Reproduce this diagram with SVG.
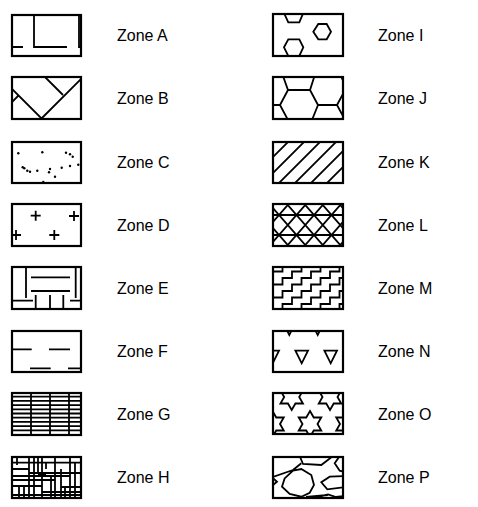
<svg xmlns="http://www.w3.org/2000/svg" width="478" height="507" viewBox="0 0 478 507">
<style>
.box{fill:none;stroke:#000;stroke-width:2.2}
.h{fill:none;stroke:#000;stroke-width:1.8;stroke-linejoin:miter}
.d{fill:#000}
.t{font-family:"Liberation Sans",Arial,sans-serif;font-size:16px;fill:#000}
</style>
<defs>
<clipPath id="cl"><rect width="69" height="42"/></clipPath>
<clipPath id="cr"><rect width="70" height="42"/></clipPath>
<path id="star" d="M0 -13L3.75 -6.5L11.26 -6.5L7.5 0L11.26 6.5L3.75 6.5L0 13L-3.75 6.5L-11.26 6.5L-7.5 0L-11.26 -6.5L-3.75 -6.5Z"/>
</defs>
<rect width="478" height="507" fill="#fff"/>

<g id="zoneA">
<g transform="translate(12,15)"><g clip-path="url(#cl)"><path class="h" d="M22 0V32H55M0 32H11M67 0V32H69"/></g><rect class="box" width="69" height="41"/></g>
<text class="t" x="117" y="41">Zone A</text>
</g>

<g id="zoneB">
<g transform="translate(12,77)"><g clip-path="url(#cl)"><path class="h" d="M0 12L30 42M30 41L70 1M33 0L51 18M0 25L7 18"/></g><rect class="box" width="69" height="42"/></g>
<text class="t" x="117" y="104">Zone B</text>
</g>

<g id="zoneC">
<g transform="translate(12,142)"><g clip-path="url(#cl)" class="d">
<circle cx="6.3" cy="11.3" r="1.2"/><circle cx="30.3" cy="10.3" r="1.2"/><circle cx="54" cy="10.7" r="1.2"/><circle cx="58" cy="12.3" r="1.2"/><circle cx="60.7" cy="14.7" r="1.2"/><circle cx="10.7" cy="25.3" r="1.2"/><circle cx="12.3" cy="26.3" r="1.2"/><circle cx="15.3" cy="28.7" r="1.2"/><circle cx="18" cy="29.7" r="1.2"/><circle cx="25.3" cy="28.7" r="1.2"/><circle cx="38" cy="27" r="1.2"/><circle cx="37" cy="30.3" r="1.2"/><circle cx="49.7" cy="25.7" r="1.2"/><circle cx="58" cy="24" r="1.2"/><circle cx="66.3" cy="22.7" r="1.2"/><circle cx="43" cy="34.7" r="1.2"/><circle cx="31.3" cy="40" r="1.2"/>
</g><rect class="box" width="69" height="41"/></g>
<text class="t" x="117" y="168">Zone C</text>
</g>

<g id="zoneD">
<g transform="translate(12,204)"><g clip-path="url(#cl)"><path class="h" d="M18.7 11.7h10M23.7 6.7v10M57 12h10M62 7v10M-1 31h10M4 26v10M37.3 31h10M42.3 26v10"/></g><rect class="box" width="69" height="42"/></g>
<text class="t" x="117" y="231">Zone D</text>
</g>

<g id="zoneE">
<g transform="translate(12,267)"><g clip-path="url(#cl)"><path class="h" d="M19 10.3H58M19 24H58M14 0V31M63.7 0V31M0 33.7H21M58 33.7H69M23.7 28V42M38 28V42M51.3 28V42"/></g><rect class="box" width="69" height="42"/></g>
<text class="t" x="117" y="294">Zone E</text>
</g>

<g id="zoneF">
<g transform="translate(12,331)"><g clip-path="url(#cl)"><path class="h" d="M0 18.3H19.7M37 18.3H58M18 37.3H38.7M56 37.3H69"/></g><rect class="box" width="69" height="41"/></g>
<text class="t" x="117" y="357">Zone F</text>
</g>

<g id="zoneG">
<g transform="translate(12,393)"><g clip-path="url(#cl)"><path class="h" d="M0 3.7H69M0 7.9H69M0 12.1H69M0 16.3H69M0 20.5H69M0 24.7H69M0 28.9H69M0 33.1H69M0 37.3H69M19 0V42M38 0V42M57 0V42"/></g><rect class="box" width="69" height="42"/></g>
<text class="t" x="117" y="420">Zone G</text>
</g>

<g id="zoneH">
<g transform="translate(12,457)"><g clip-path="url(#cl)"><path class="h" d="M5 0V8M17 0V41M22 0V41M26 0V17M30 0V41M34 5V12M39 19V41M43 0V41M49 12V41M53 29V41M58 0V41M63 5V41M7 30V41M12 30V41M0 5.7H69M0 12H17M17 16H69M0 19H58M0 23H43M0 29H30M49 30H69M30 35H69M0 38H69M26 17H34"/></g><rect class="box" width="69" height="41"/></g>
<text class="t" x="117" y="483">Zone H</text>
</g>

<g id="zoneI">
<g transform="translate(273,14)"><g clip-path="url(#cr)"><path class="h" d="M11 -1L15.3 8.3H26.3L30.3 -1M40.3 17.7L45.3 10H53.7L58 17.7L53.7 25.3H45.3ZM11 33.3L15.3 25.3H26.3L30.3 33.3L26.3 42H15.3Z"/></g><rect class="box" width="70" height="42"/></g>
<text class="t" x="378" y="41">Zone I</text>
</g>

<g id="zoneJ">
<g transform="translate(273,77)"><g clip-path="url(#cr)"><path class="h" d="M10 -1L15 13H37L41.5 -1M15 13L7 28H0M7 28L15 43M37 13L45 28H64L71 15M64 28L71 41M45 28L39 43M68 -1L71 6"/></g><rect class="box" width="70" height="42"/></g>
<text class="t" x="378" y="104">Zone J</text>
</g>

<g id="zoneK">
<g transform="translate(273,142)"><g clip-path="url(#cr)"><path class="h" d="M-35 50L25 -10M-19 50L41 -10M-3 50L57 -10M13 50L73 -10M29 50L89 -10M45 50L105 -10M61 50L121 -10"/></g><rect class="box" width="70" height="41"/></g>
<text class="t" x="378" y="168">Zone K</text>
</g>

<g id="zoneL">
<g transform="translate(273,204)"><g clip-path="url(#cr)"><path class="h" d="M0 11H70M0 31H70M-43 -5L1.6 46M-25.5 -5L19.1 46M-8 -5L36.6 46M9.5 -5L54.1 46M27 -5L71.6 46M44.5 -5L89.1 46M62 -5L106.6 46M20 -5L-24.6 46M37.5 -5L-7.1 46M55 -5L10.4 46M72.5 -5L27.9 46M90 -5L45.4 46M107.5 -5L62.9 46"/></g><rect class="box" width="70" height="42"/></g>
<text class="t" x="378" y="231">Zone L</text>
</g>

<g id="zoneM">
<g transform="translate(273,267)"><g clip-path="url(#cr)"><path class="h" d="M-57 50v-6.5h9.5v-6.5h9.5v-6.5h9.5v-6.5h9.5v-6.5h9.5v-6.5h9.5v-6.5h9.5v-6.5h9.5M-38 50v-6.5h9.5v-6.5h9.5v-6.5h9.5v-6.5h9.5v-6.5h9.5v-6.5h9.5v-6.5h9.5v-6.5h9.5M-19 50v-6.5h9.5v-6.5h9.5v-6.5h9.5v-6.5h9.5v-6.5h9.5v-6.5h9.5v-6.5h9.5v-6.5h9.5M0 50v-6.5h9.5v-6.5h9.5v-6.5h9.5v-6.5h9.5v-6.5h9.5v-6.5h9.5v-6.5h9.5v-6.5h9.5M19 50v-6.5h9.5v-6.5h9.5v-6.5h9.5v-6.5h9.5v-6.5h9.5v-6.5h9.5M38 50v-6.5h9.5v-6.5h9.5v-6.5h9.5v-6.5h9.5M57 50v-6.5h9.5v-6.5h9.5"/></g><rect class="box" width="70" height="42"/></g>
<text class="t" x="378" y="294">Zone M</text>
</g>

<g id="zoneN">
<g transform="translate(273,331)"><g clip-path="url(#cr)"><path class="h" d="M10 -8.6H22.6L16.3 4ZM38.4 -8.6H51L44.7 4ZM22.4 19.7H35L28.7 32.3ZM51.4 19.7H64L57.7 32.3ZM-6.6 19.7H6L-0.3 32.3Z"/></g><rect class="box" width="70" height="41"/></g>
<text class="t" x="378" y="357">Zone N</text>
</g>

<g id="zoneO">
<g transform="translate(273,393)"><g clip-path="url(#cr)" class="h"><use href="#star" x="18.7" y="4"/><use href="#star" x="57" y="4"/><use href="#star" x="37" y="31"/><use href="#star" x="-0.5" y="31"/><use href="#star" x="74.5" y="31"/></g><rect class="box" width="70" height="41"/></g>
<text class="t" x="378" y="420">Zone O</text>
</g>

<g id="zoneP">
<g transform="translate(273,457)"><g clip-path="url(#cr)"><path class="h" d="M11.7 21.3L20 13.7L28.3 12L38.3 18L41 28L36.7 35.7L28.3 39.7L16.7 37L9 29.7ZM26.7 -1L30 7L48.3 8L60 -1M0 20L20 13M20 13L28.3 6.3M0 21.3L4 24.7L0 28M71 19L56.7 19.7L48.3 25.3L54.3 32.3L71 30.3M66.7 -1L61.7 6.3L66.7 13.7L71 14.7M33 40L55 38M40 41L55 37.5L63 40L71 39"/></g><rect class="box" width="70" height="41"/></g>
<text class="t" x="378" y="483">Zone P</text>
</g>
</svg>
